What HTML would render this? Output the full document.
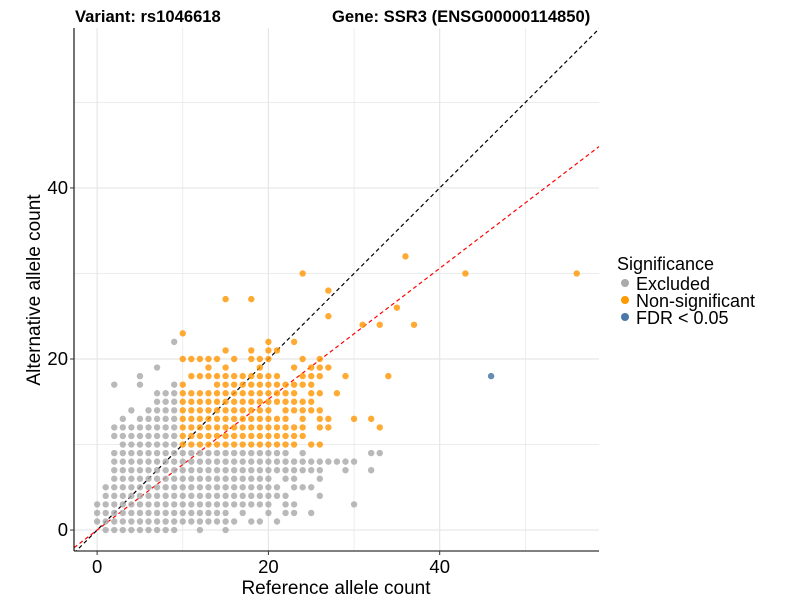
<!DOCTYPE html>
<html><head><meta charset="utf-8"><style>
body{margin:0;background:#fff;font-family:"Liberation Sans",sans-serif}
svg text{font-family:"Liberation Sans",sans-serif}
</style></head><body>
<svg id="chart" width="800" height="600" xmlns="http://www.w3.org/2000/svg">
<text x="75" y="22" font-size="16.6" font-weight="bold">Variant: rs1046618</text>
<text x="332" y="22" font-size="16.6" font-weight="bold">Gene: SSR3 (ENSG00000114850)</text>
<g id="grid"></g>
<g id="lines"></g>
<g id="pts"></g>
<g id="axes"></g>
<text x="336" y="594" font-size="19" text-anchor="middle">Reference allele count</text>
<text transform="translate(40,290) rotate(-90)" font-size="19" text-anchor="middle">Alternative allele count</text>
<g>
<text x="617" y="270" font-size="18">Significance</text>
<circle cx="625" cy="283" r="4" fill="#aaaaaa"/>
<text x="636" y="290" font-size="18">Excluded</text>
<circle cx="625" cy="300" r="4" fill="#ff9900"/>
<text x="636" y="307" font-size="18">Non-significant</text>
<circle cx="625" cy="317" r="4" fill="#4a78a8"/>
<text x="636" y="324" font-size="18">FDR &lt; 0.05</text>
</g>
</svg>
<script>
const xTicks=[0,20,40];
const yTicks=[0,20,40];
const minorTicks=[10,30,50];
const redSlope=0.765;
// gray (excluded) rows: [y, x values]
const grayRows=[
[0,[1,2,3,4,5,6,7,8,9,12,15]],
[1,[0,1,2,3,4,5,6,7,8,9,10,11,12,13,14,15,16,18,19,21]],
[2,[0,1,2,3,4,5,6,7,8,9,10,11,12,13,14,15,17,20,22,23,25]],
[3,[0,1,2,3,4,5,6,7,8,9,10,11,12,13,14,15,16,17,18,19,20,22,23,30]],
[4,[1,2,3,4,5,6,7,8,9,10,11,12,13,14,15,16,17,18,19,20,21,22,26]],
[5,[1,2,3,4,5,6,7,8,9,10,11,12,13,14,15,16,17,18,19,20,21,23,24,25]],
[6,[2,3,4,5,6,7,8,9,10,11,12,13,14,15,16,17,18,19,20,22,23,26]],
[7,[2,3,4,5,6,7,8,9,10,11,12,13,14,15,16,17,18,19,20,21,22,23,24,25,26,29,32]],
[8,[2,3,4,5,6,7,8,9,10,11,12,13,14,15,16,17,18,19,20,21,22,23,24,25,26,27,28,29,30]],
[9,[2,3,4,5,6,7,8,9,10,11,12,13,14,15,16,17,18,19,20,21,22,24,32,33]],
[10,[3,4,5,6,7,8,9]],
[11,[2,3,4,5,6,7,8,9]],
[12,[2,3,4,5,6,7,8,9]],
[13,[3,5,6,7,8,9]],
[14,[4,6,7,8,9]],
[15,[7,8,9]],
[16,[7,8,9]],
[17,[2,5,9]],
[18,[5]],
[19,[7]],
[22,[9]]
];
// orange (non-significant) rows
const orangeRows=[
[10,[10,11,12,13,14,15,16,17,18,19,20,21,22,23,25,26]],
[11,[10,11,12,13,14,15,16,17,18,19,20,21,22,23,24]],
[12,[10,11,12,13,14,15,16,17,18,19,20,21,22,23,24,26,27,33]],
[13,[10,11,12,13,14,15,16,17,18,19,20,21,22,24,26,27,30,32]],
[14,[10,11,12,13,14,15,16,17,18,19,20,22,23,24,25,26]],
[15,[10,11,12,13,14,15,16,17,18,19,20,21,22,23,24,25]],
[16,[10,11,12,13,14,15,16,17,18,19,20,21,22,23,25,26,28]],
[17,[10,14,15,16,17,18,19,20,21,22,23,24,25]],
[18,[11,12,13,14,15,16,17,18,19,20,21,24,25,26,29,34]],
[19,[13,15,19,23,25,26,27]],
[20,[10,11,12,13,14,16,18,19,20,24,26]],
[21,[15,18,20,21]],
[22,[20,23]],
[23,[10]],
[24,[31,33,37]],
[25,[27]],
[26,[35]],
[27,[15,18]],
[28,[27]],
[30,[24,43,56]],
[32,[36]]
];
const bluePts=[[46,18]];
const X0=-2.7,X1=58.6,Y0=-2.45,Y1=58.7,PL=74,PR=599,PT=28,PB=551;
const sx=v=>PL+(v-X0)/(X1-X0)*(PR-PL);
const sy=v=>PB-(v-Y0)/(Y1-Y0)*(PB-PT);
const NS='http://www.w3.org/2000/svg';
function mk(tag,attrs,parent){const e=document.createElementNS(NS,tag);for(const k in attrs)e.setAttribute(k,attrs[k]);parent.appendChild(e);return e;}
const grid=document.getElementById('grid');
[...xTicks,...minorTicks].forEach(v=>{const l=mk('line',{x1:sx(v),x2:sx(v),y1:PT,y2:PB,stroke:'#e6e6e6','stroke-width':xTicks.includes(v)?1.2:0.7},grid);

});
[...yTicks,...minorTicks].forEach(v=>{const l=mk('line',{x1:PL,x2:PR,y1:sy(v),y2:sy(v),stroke:'#e6e6e6','stroke-width':yTicks.includes(v)?1.2:0.7},grid);

});
const pts=document.getElementById('pts');
function drawRows(rows,color,name){rows.forEach(([y,xs])=>xs.forEach(x=>{const c=mk('circle',{cx:sx(x),cy:sy(y),r:3.2,fill:color,'fill-opacity':0.8},pts);

}));}
drawRows(grayRows,'#a8a8a8','point-excluded');
drawRows(orangeRows,'#ff9500','point-nonsignificant');
bluePts.forEach(([x,y])=>{const c=mk('circle',{cx:sx(x),cy:sy(y),r:3.2,fill:'#4a78a8','fill-opacity':0.85},pts);

});
const lines=document.getElementById('lines');
const d=mk('line',{x1:sx(X0),y1:sy(X0),x2:sx(Y1),y2:sy(Y1),stroke:'#000','stroke-width':1.2,'stroke-dasharray':'4,3'},lines);


const r=mk('line',{x1:sx(X0),y1:sy(X0*redSlope),x2:sx(X1),y2:sy(X1*redSlope),stroke:'#ff0000','stroke-width':1.2,'stroke-dasharray':'4,3'},lines);


lines.setAttribute('clip-path','url(#cp)');
const defs=mk('defs',{},document.getElementById('chart'));
const cp=mk('clipPath',{id:'cp'},defs);mk('rect',{x:PL,y:PT,width:PR-PL,height:PB-PT},cp);
const axes=document.getElementById('axes');
const ax=mk('line',{x1:PL,x2:PR,y1:PB,y2:PB,stroke:'#000','stroke-width':1.1},axes);


const ay=mk('line',{x1:PL,x2:PL,y1:PT,y2:PB,stroke:'#000','stroke-width':1.1},axes);


xTicks.forEach(v=>{mk('line',{x1:sx(v),x2:sx(v),y1:PB,y2:PB+4,stroke:'#333'},axes);
const t=mk('text',{x:sx(v),y:PB+22,'font-size':18.5,'text-anchor':'middle',fill:'#000'},axes);t.textContent=v;

});
yTicks.forEach(v=>{mk('line',{x1:PL-4,x2:PL,y1:sy(v),y2:sy(v),stroke:'#333'},axes);
const t=mk('text',{x:PL-6,y:sy(v)+6,'font-size':18.5,'text-anchor':'end',fill:'#000'},axes);t.textContent=v;

});
</script>
</body></html>
